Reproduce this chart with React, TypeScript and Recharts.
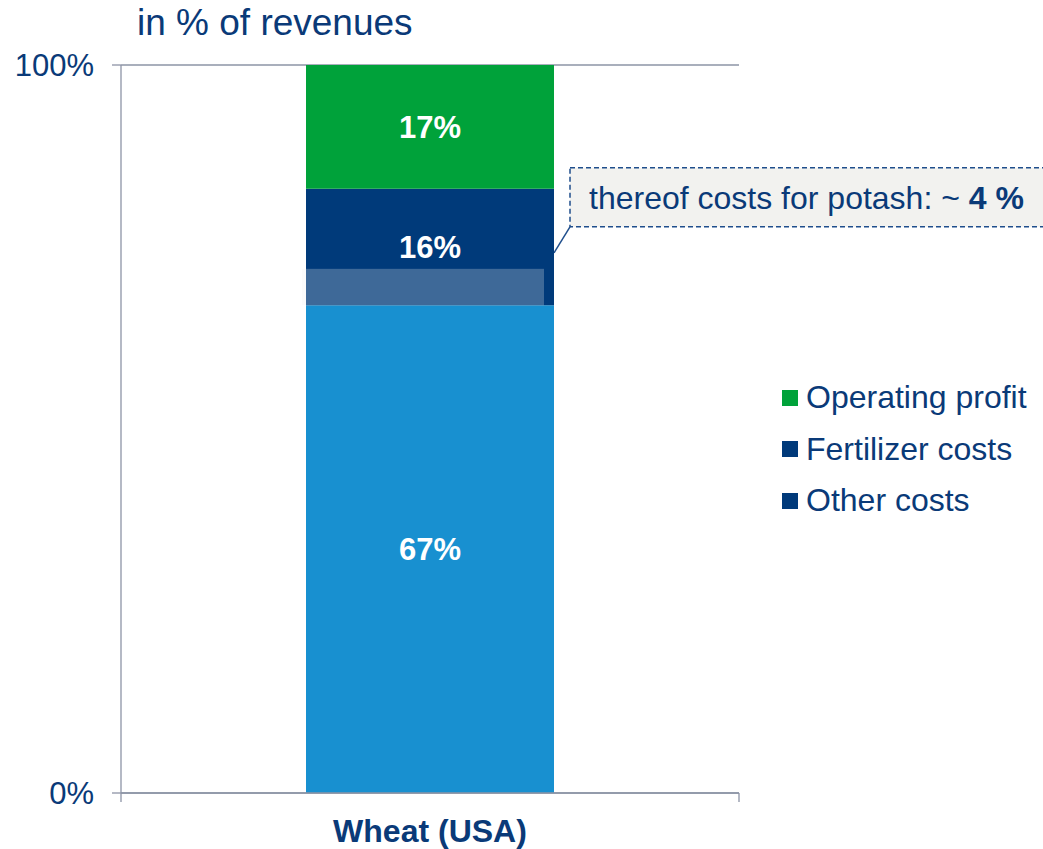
import React from 'react';
import {
  BarChart,
  Bar,
  XAxis,
  YAxis,
  CartesianGrid,
  LabelList,
  Legend,
  ReferenceArea,
} from 'recharts';

const categories = ['Wheat (USA)'];
const otherCosts = [67];
const fertilizerCosts = [16];
const operatingProfit = [17];
const potashRange = [67, 72];
const yTicks = [0, 100];
const calloutPrefix = 'thereof costs for potash: ~ ';
const calloutValue = '4 %';
const titleText = 'in % of revenues';

const legendItems = [
  { label: 'Operating profit', color: '#00a23a' },
  { label: 'Fertilizer costs', color: '#003a7a' },
  { label: 'Other costs', color: '#003a7a' },
];

const COLORS = {
  other: '#1890d0',
  fert: '#003a7a',
  profit: '#00a23a',
  text: '#0a3a78',
  axis: '#8d94a6',
};

const FONT = '"Liberation Sans", Arial, sans-serif';

const data = categories.map((name, i) => ({
  name,
  other: otherCosts[i],
  fert: fertilizerCosts[i],
  profit: operatingProfit[i],
}));

const pct = (v: any) => `${v}%`;

// Fertilizer segment with the potash share overlaid at its bottom
const FertShape = (props: any) => {
  const { x, y, width, height, fill, value } = props;
  const segVal = Array.isArray(value) ? value[1] - value[0] : value;
  const bandH = (height * (potashRange[1] - potashRange[0])) / segVal;
  const bottom = y + height;
  return (
    <g>
      <rect x={x} y={y} width={width} height={height} fill={fill} />
      <rect x={x - 4} y={bottom - bandH} width={width - 6} height={bandH} fill="#f0f0f0" fillOpacity={0.26} />
    </g>
  );
};

const CalloutShape = (props: any) => {
  const { x, y, width } = props;
  const cx = x + width / 2;
  const boxX = cx + 140;
  const boxY = y - 101;
  const boxH = 59;
  return (
    <g>
      <line x1={cx + 124} y1={y - 16} x2={boxX} y2={boxY + boxH} stroke="#1f4e8c" strokeWidth={1.5} />
      <rect
        x={boxX}
        y={boxY}
        width={500}
        height={boxH}
        fill="#f2f2ef"
        stroke="#1f4e8c"
        strokeWidth={1.5}
        strokeDasharray="5 3"
      />
      <text x={boxX + 19} y={boxY + 41} fill={COLORS.text} fontSize={32} fontFamily={FONT}>
        {calloutPrefix}
        <tspan fontWeight="bold">{calloutValue}</tspan>
      </text>
    </g>
  );
};

// Small downward tick marks at the left and right ends of the category axis
const EdgeTicks = (props: any) => {
  const { x, y, width, height } = props;
  const b = y + height;
  return (
    <g stroke={COLORS.axis} strokeWidth={1.3}>
      <line x1={x} y1={b} x2={x} y2={b + 9} />
      <line x1={x + width} y1={b} x2={x + width} y2={b + 9} />
    </g>
  );
};

const LegendContent = () => (
  <div style={{ fontFamily: FONT }}>
    {legendItems.map((it) => (
      <div key={it.label} style={{ display: 'flex', alignItems: 'center', height: 51.5 }}>
        <span style={{ width: 16, height: 16, background: it.color, display: 'inline-block', marginRight: 8 }} />
        <span style={{ fontSize: 32, color: COLORS.text, whiteSpace: 'nowrap' }}>{it.label}</span>
      </div>
    ))}
  </div>
);

export default function App() {
  return (
    <div style={{ position: 'absolute', left: 0, top: 0, width: 1043, height: 849, background: '#fff', fontFamily: FONT, overflow: 'hidden' }}>
      <div style={{ position: 'absolute', left: 137, top: 5, fontSize: 37, lineHeight: '36px', color: COLORS.text, whiteSpace: 'nowrap' }}>
        {titleText}
      </div>
      <BarChart
        width={1043}
        height={849}
        data={data}
        margin={{ top: 65, right: 304, bottom: 0, left: 61 }}
        style={{ fontFamily: FONT }}
      >
        <CartesianGrid vertical={false} stroke={COLORS.axis} strokeWidth={1.3} />
        <XAxis
          dataKey="name"
          height={56}
          tickLine={false}
          axisLine={{ stroke: COLORS.axis, strokeWidth: 1.3 }}
          tickSize={6}
          tickMargin={20}
          tick={{ fill: COLORS.text, fontSize: 32, fontWeight: 'bold', fontFamily: FONT }}
        />
        <YAxis
          width={60}
          domain={[0, 100]}
          ticks={yTicks}
          tickFormatter={pct}
          axisLine={{ stroke: COLORS.axis, strokeWidth: 1.3 }}
          tickLine={{ stroke: COLORS.axis, strokeWidth: 1.3 }}
          tickSize={9}
          tickMargin={18}
          tick={{ fill: COLORS.text, fontSize: 31, fontFamily: FONT }}
        />
        <Legend
          layout="vertical"
          align="center"
          verticalAlign="middle"
          wrapperStyle={{ left: 782, top: 372, width: 261 }}
          content={<LegendContent />}
        />
        <ReferenceArea y1={0} y2={100} ifOverflow="visible" shape={<EdgeTicks />} />
        <Bar dataKey="other" stackId="a" fill={COLORS.other} barSize={248} isAnimationActive={false}>
          <LabelList dataKey="other" position="center" formatter={pct} fill="#fff" fontSize={31} fontWeight="bold" fontFamily={FONT} />
        </Bar>
        <Bar dataKey="fert" stackId="a" fill={COLORS.fert} barSize={248} isAnimationActive={false} shape={<FertShape />}>
          <LabelList dataKey="fert" position="center" formatter={pct} fill="#fff" fontSize={31} fontWeight="bold" fontFamily={FONT} />
        </Bar>
        <Bar dataKey="profit" stackId="a" fill={COLORS.profit} barSize={248} isAnimationActive={false}>
          <LabelList dataKey="profit" position="center" formatter={pct} fill="#fff" fontSize={31} fontWeight="bold" fontFamily={FONT} />
        </Bar>
        <ReferenceArea y1={potashRange[0]} y2={potashRange[1]} ifOverflow="visible" shape={<CalloutShape />} />
      </BarChart>
    </div>
  );
}
